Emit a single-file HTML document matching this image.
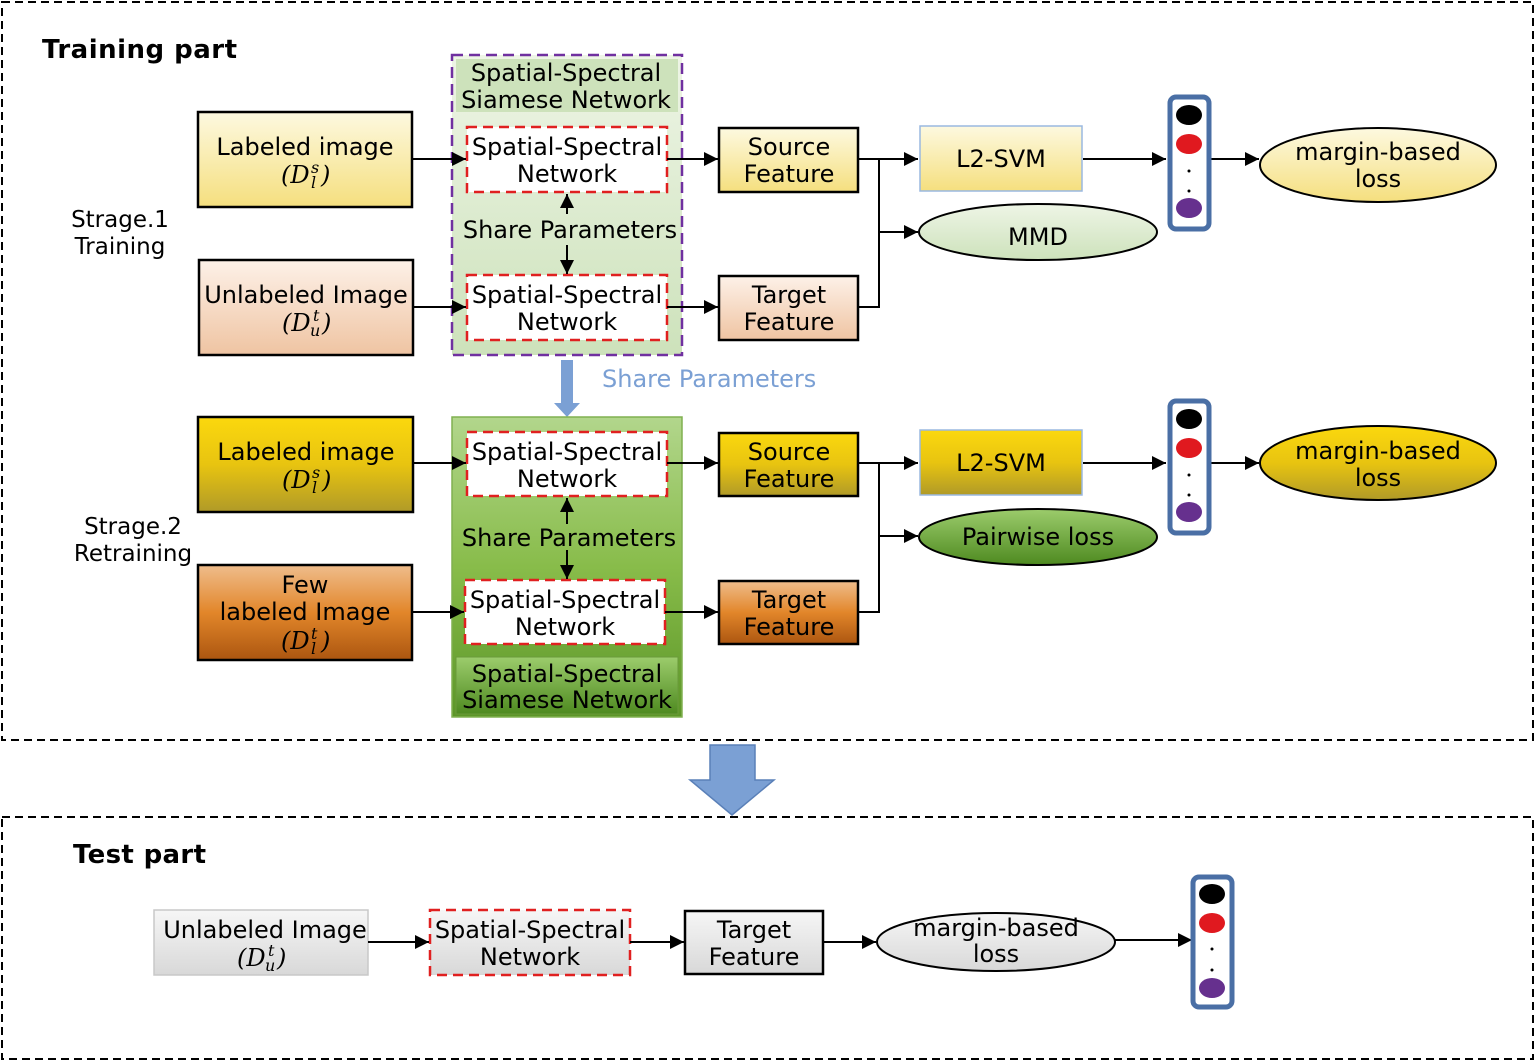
<!DOCTYPE html>
<html><head><meta charset="utf-8"><style>html,body{margin:0;padding:0;background:#fff}svg{display:block}text{font-family:"DejaVu Sans","Liberation Sans",sans-serif;fill:#000;font-size:24px}.m{font-family:"DejaVu Serif","Liberation Serif",serif;font-style:italic}</style></head><body>
<svg width="1535" height="1061" viewBox="0 0 1535 1061" xmlns="http://www.w3.org/2000/svg">
<defs>
<marker id="a" viewBox="0 0 10 10" refX="10" refY="5" markerWidth="16" markerHeight="14" orient="auto-start-reverse" markerUnits="userSpaceOnUse"><path d="M0,0 L10,5 L0,10 z" fill="#000"/></marker>
<linearGradient id="y1" x1="0" y1="0" x2="0" y2="1"><stop offset="0" stop-color="#fdf9e0"/><stop offset="1" stop-color="#f5df7e"/></linearGradient>
<linearGradient id="p1" x1="0" y1="0" x2="0" y2="1"><stop offset="0" stop-color="#fdf1e8"/><stop offset="1" stop-color="#efc4a2"/></linearGradient>
<linearGradient id="g1" x1="0" y1="0" x2="0" y2="1"><stop offset="0" stop-color="#eef5e6"/><stop offset="1" stop-color="#cde2bb"/></linearGradient>
<linearGradient id="y2" x1="0" y1="0" x2="0" y2="1"><stop offset="0" stop-color="#fbd80e"/><stop offset="0.5" stop-color="#e8c410"/><stop offset="1" stop-color="#b09a28"/></linearGradient>
<linearGradient id="o2" x1="0" y1="0" x2="0" y2="1"><stop offset="0" stop-color="#efbd8c"/><stop offset="0.5" stop-color="#e2862a"/><stop offset="1" stop-color="#ac5610"/></linearGradient>
<linearGradient id="g2" x1="0" y1="0" x2="0" y2="1"><stop offset="0" stop-color="#b2d68c"/><stop offset="0.5" stop-color="#88bc4a"/><stop offset="1" stop-color="#5c9628"/></linearGradient>
<linearGradient id="g3" x1="0" y1="0" x2="0" y2="1"><stop offset="0" stop-color="#9ccc6c"/><stop offset="1" stop-color="#4e8a20"/></linearGradient>
<linearGradient id="gr" x1="0" y1="0" x2="0" y2="1"><stop offset="0" stop-color="#f6f6f6"/><stop offset="1" stop-color="#d8d8d8"/></linearGradient>
</defs>

<rect x="2" y="2" width="1531" height="738" fill="none" stroke="#000" stroke-width="2" stroke-dasharray="8,5"/>
<rect x="2" y="817" width="1531" height="242" fill="none" stroke="#000" stroke-width="2" stroke-dasharray="8,5"/>
<path d="M710,745 H755 V780 H774 L732,815 L690,780 H710 Z" fill="#7ba0d4" stroke="#5a80b8" stroke-width="1.5"/>
<text x="42" y="58" style="font-size:26px" font-weight="bold" textLength="195">Training part</text>
<text x="73" y="863" style="font-size:26px" font-weight="bold" textLength="133">Test part</text>
<g style="font-size:23px">
<text x="120" y="227" style="font-size:23px" text-anchor="middle">Strage.1</text>
<text x="120" y="254" style="font-size:23px" text-anchor="middle">Training</text>
<text x="133" y="534" style="font-size:23px" text-anchor="middle">Strage.2</text>
<text x="133" y="561" style="font-size:23px" text-anchor="middle">Retraining</text>
</g>

<!-- Stage 1 -->
<rect x="452" y="55" width="230" height="300" fill="url(#g1)" stroke="#7030a0" stroke-width="2.5" stroke-dasharray="11,6"/>
<rect x="456" y="59" width="222" height="53" fill="#cde2bb"/>
<text x="566" y="81" text-anchor="middle">Spatial-Spectral</text>
<text x="566" y="108" text-anchor="middle">Siamese Network</text>
<rect x="198" y="112" width="214" height="95" fill="url(#y1)" stroke="#000" stroke-width="2.5"/>
<text x="305" y="155" text-anchor="middle">Labeled image</text>
<text x="281" y="183" class="m">(D</text><text x="311" y="173" style="font-size:16px" class="m">s</text><text x="311" y="188" style="font-size:16px" class="m">l</text><text x="321" y="183" class="m">)</text>
<rect x="199" y="260" width="214" height="95" fill="url(#p1)" stroke="#000" stroke-width="2.5"/>
<text x="306" y="303" text-anchor="middle">Unlabeled Image</text>
<text x="282" y="331" class="m">(D</text><text x="313" y="321" style="font-size:16px" class="m">t</text><text x="310" y="336" style="font-size:16px" class="m">u</text><text x="322" y="331" class="m">)</text>
<rect x="467" y="127" width="200" height="65" fill="#fff" stroke="#e02020" stroke-width="2.5" stroke-dasharray="10,6"/>
<text x="567" y="155" text-anchor="middle">Spatial-Spectral</text>
<text x="567" y="182" text-anchor="middle">Network</text>
<rect x="467" y="275" width="200" height="65" fill="#fff" stroke="#e02020" stroke-width="2.5" stroke-dasharray="10,6"/>
<text x="567" y="303" text-anchor="middle">Spatial-Spectral</text>
<text x="567" y="330" text-anchor="middle">Network</text>
<line x1="567" y1="214" x2="567" y2="194" stroke="#000" stroke-width="2" marker-end="url(#a)"/>
<line x1="567" y1="245" x2="567" y2="274" stroke="#000" stroke-width="2" marker-end="url(#a)"/>
<text x="570" y="238" text-anchor="middle">Share Parameters</text>
<g stroke="#000" stroke-width="2" fill="none">
<line x1="412" y1="159" x2="466" y2="159" marker-end="url(#a)"/>
<line x1="413" y1="307" x2="466" y2="307" marker-end="url(#a)"/>
<line x1="667" y1="159" x2="718" y2="159" marker-end="url(#a)"/>
<line x1="667" y1="307" x2="718" y2="307" marker-end="url(#a)"/>
<line x1="858" y1="159" x2="918" y2="159" marker-end="url(#a)"/>
<polyline points="858,307 879,307 879,159"/>
<line x1="879" y1="232" x2="918" y2="232" marker-end="url(#a)"/>
<line x1="1083" y1="159" x2="1166" y2="159" marker-end="url(#a)"/>
<line x1="1209" y1="159" x2="1259" y2="159" marker-end="url(#a)"/>
</g>
<rect x="719" y="128" width="139" height="64" fill="url(#y1)" stroke="#000" stroke-width="2.5"/>
<text x="789" y="155" text-anchor="middle">Source</text>
<text x="789" y="182" text-anchor="middle">Feature</text>
<rect x="719" y="276" width="139" height="64" fill="url(#p1)" stroke="#000" stroke-width="2.5"/>
<text x="789" y="303" text-anchor="middle">Target</text>
<text x="789" y="330" text-anchor="middle">Feature</text>
<rect x="920" y="126" width="162" height="65" fill="url(#y1)" stroke="#9ab8e0" stroke-width="1.5"/>
<text x="1001" y="167" text-anchor="middle">L2-SVM</text>
<ellipse cx="1038" cy="232" rx="119" ry="28" fill="url(#g1)" stroke="#000" stroke-width="2"/>
<text x="1038" y="245" text-anchor="middle">MMD</text>
<ellipse cx="1378" cy="165" rx="118" ry="37" fill="url(#y1)" stroke="#000" stroke-width="2"/>
<text x="1378" y="160" text-anchor="middle">margin-based</text>
<text x="1378" y="187" text-anchor="middle">loss</text>
<g>
<rect x="1170" y="97" width="39" height="132" rx="6" fill="#fff" stroke="#4a6fa5" stroke-width="5"/>
<ellipse cx="1189" cy="115" rx="13" ry="10" fill="#000"/>
<ellipse cx="1189" cy="144" rx="13" ry="10" fill="#e0191f"/>
<circle cx="1189" cy="171" r="1.5" fill="#000"/><circle cx="1189" cy="191" r="1.5" fill="#000"/>
<ellipse cx="1189" cy="208" rx="13" ry="10" fill="#66308e"/>
</g>

<path d="M561,360 H573 V403 H580 L567,417 L554,403 H561 Z" fill="#7ba0d4"/>
<text x="602" y="387" style="fill:#7ba0d4">Share Parameters</text>

<!-- Stage 2 -->
<rect x="452" y="417" width="230" height="300" fill="url(#g2)" stroke="#80b050" stroke-width="1.5"/>
<rect x="456" y="657" width="222" height="57" fill="url(#g3)" stroke="#6a9a3a" stroke-width="1"/>
<text x="567" y="682" text-anchor="middle">Spatial-Spectral</text>
<text x="567" y="708" text-anchor="middle">Siamese Network</text>
<rect x="198" y="417" width="215" height="95" fill="url(#y2)" stroke="#000" stroke-width="2.5"/>
<text x="306" y="460" text-anchor="middle">Labeled image</text>
<text x="282" y="488" class="m">(D</text><text x="312" y="478" style="font-size:16px" class="m">s</text><text x="312" y="493" style="font-size:16px" class="m">l</text><text x="322" y="488" class="m">)</text>
<rect x="198" y="565" width="214" height="95" fill="url(#o2)" stroke="#000" stroke-width="2.5"/>
<text x="305" y="593" text-anchor="middle">Few</text>
<text x="305" y="620" text-anchor="middle">labeled Image</text>
<text x="281" y="649" class="m">(D</text><text x="311" y="639" style="font-size:16px" class="m">t</text><text x="311" y="654" style="font-size:16px" class="m">l</text><text x="321" y="649" class="m">)</text>
<rect x="467" y="432" width="200" height="64" fill="#fff" stroke="#e02020" stroke-width="2.5" stroke-dasharray="10,6"/>
<text x="567" y="460" text-anchor="middle">Spatial-Spectral</text>
<text x="567" y="487" text-anchor="middle">Network</text>
<rect x="465" y="580" width="200" height="64" fill="#fff" stroke="#e02020" stroke-width="2.5" stroke-dasharray="10,6"/>
<text x="565" y="608" text-anchor="middle">Spatial-Spectral</text>
<text x="565" y="635" text-anchor="middle">Network</text>
<line x1="567" y1="524" x2="567" y2="498" stroke="#000" stroke-width="2" marker-end="url(#a)"/>
<line x1="567" y1="550" x2="567" y2="579" stroke="#000" stroke-width="2" marker-end="url(#a)"/>
<text x="569" y="546" text-anchor="middle">Share Parameters</text>
<g stroke="#000" stroke-width="2" fill="none">
<line x1="413" y1="463" x2="466" y2="463" marker-end="url(#a)"/>
<line x1="412" y1="612" x2="464" y2="612" marker-end="url(#a)"/>
<line x1="667" y1="463" x2="718" y2="463" marker-end="url(#a)"/>
<line x1="665" y1="612" x2="718" y2="612" marker-end="url(#a)"/>
<line x1="858" y1="463" x2="918" y2="463" marker-end="url(#a)"/>
<polyline points="858,612 879,612 879,463"/>
<line x1="879" y1="536" x2="918" y2="536" marker-end="url(#a)"/>
<line x1="1083" y1="463" x2="1166" y2="463" marker-end="url(#a)"/>
<line x1="1209" y1="463" x2="1259" y2="463" marker-end="url(#a)"/>
</g>
<rect x="719" y="433" width="139" height="63" fill="url(#y2)" stroke="#000" stroke-width="2.5"/>
<text x="789" y="460" text-anchor="middle">Source</text>
<text x="789" y="487" text-anchor="middle">Feature</text>
<rect x="719" y="581" width="139" height="63" fill="url(#o2)" stroke="#000" stroke-width="2.5"/>
<text x="789" y="608" text-anchor="middle">Target</text>
<text x="789" y="635" text-anchor="middle">Feature</text>
<rect x="920" y="430" width="162" height="65" fill="url(#y2)" stroke="#9ab8e0" stroke-width="1.5"/>
<text x="1001" y="471" text-anchor="middle">L2-SVM</text>
<ellipse cx="1038" cy="537" rx="119" ry="28" fill="url(#g3)" stroke="#000" stroke-width="2"/>
<text x="1038" y="545" text-anchor="middle">Pairwise loss</text>
<ellipse cx="1378" cy="463" rx="118" ry="37" fill="url(#y2)" stroke="#000" stroke-width="2"/>
<text x="1378" y="459" text-anchor="middle">margin-based</text>
<text x="1378" y="486" text-anchor="middle">loss</text>
<g>
<rect x="1170" y="401" width="39" height="132" rx="6" fill="#fff" stroke="#4a6fa5" stroke-width="5"/>
<ellipse cx="1189" cy="419" rx="13" ry="10" fill="#000"/>
<ellipse cx="1189" cy="448" rx="13" ry="10" fill="#e0191f"/>
<circle cx="1189" cy="475" r="1.5" fill="#000"/><circle cx="1189" cy="495" r="1.5" fill="#000"/>
<ellipse cx="1189" cy="512" rx="13" ry="10" fill="#66308e"/>
</g>

<!-- Test -->
<rect x="154" y="910" width="214" height="65" fill="url(#gr)" stroke="#c8c8c8" stroke-width="1.5"/>
<text x="265" y="938" text-anchor="middle">Unlabeled Image</text>
<text x="237" y="966" class="m">(D</text><text x="268" y="956" style="font-size:16px" class="m">t</text><text x="265" y="971" style="font-size:16px" class="m">u</text><text x="277" y="966" class="m">)</text>
<rect x="430" y="910" width="200" height="65" fill="url(#gr)" stroke="#e02020" stroke-width="2.5" stroke-dasharray="10,6"/>
<text x="530" y="938" text-anchor="middle">Spatial-Spectral</text>
<text x="530" y="965" text-anchor="middle">Network</text>
<rect x="685" y="911" width="138" height="63" fill="url(#gr)" stroke="#000" stroke-width="2.5"/>
<text x="754" y="938" text-anchor="middle">Target</text>
<text x="754" y="965" text-anchor="middle">Feature</text>
<ellipse cx="996" cy="942" rx="119" ry="29" fill="url(#gr)" stroke="#000" stroke-width="2"/>
<text x="996" y="936" text-anchor="middle">margin-based</text>
<text x="996" y="962" text-anchor="middle">loss</text>
<g stroke="#000" stroke-width="2" fill="none">
<line x1="368" y1="942" x2="429" y2="942" marker-end="url(#a)"/>
<line x1="630" y1="942" x2="684" y2="942" marker-end="url(#a)"/>
<line x1="823" y1="942" x2="876" y2="942" marker-end="url(#a)"/>
<line x1="1115" y1="940" x2="1192" y2="940" marker-end="url(#a)"/>
</g>
<g>
<rect x="1193" y="877" width="39" height="130" rx="6" fill="#fff" stroke="#4a6fa5" stroke-width="5"/>
<ellipse cx="1212" cy="894" rx="13" ry="10" fill="#000"/>
<ellipse cx="1212" cy="923" rx="13" ry="10" fill="#e0191f"/>
<circle cx="1212" cy="949" r="1.5" fill="#000"/><circle cx="1212" cy="970" r="1.5" fill="#000"/>
<ellipse cx="1212" cy="988" rx="13" ry="10" fill="#66308e"/>
</g>
</svg>
</body></html>
